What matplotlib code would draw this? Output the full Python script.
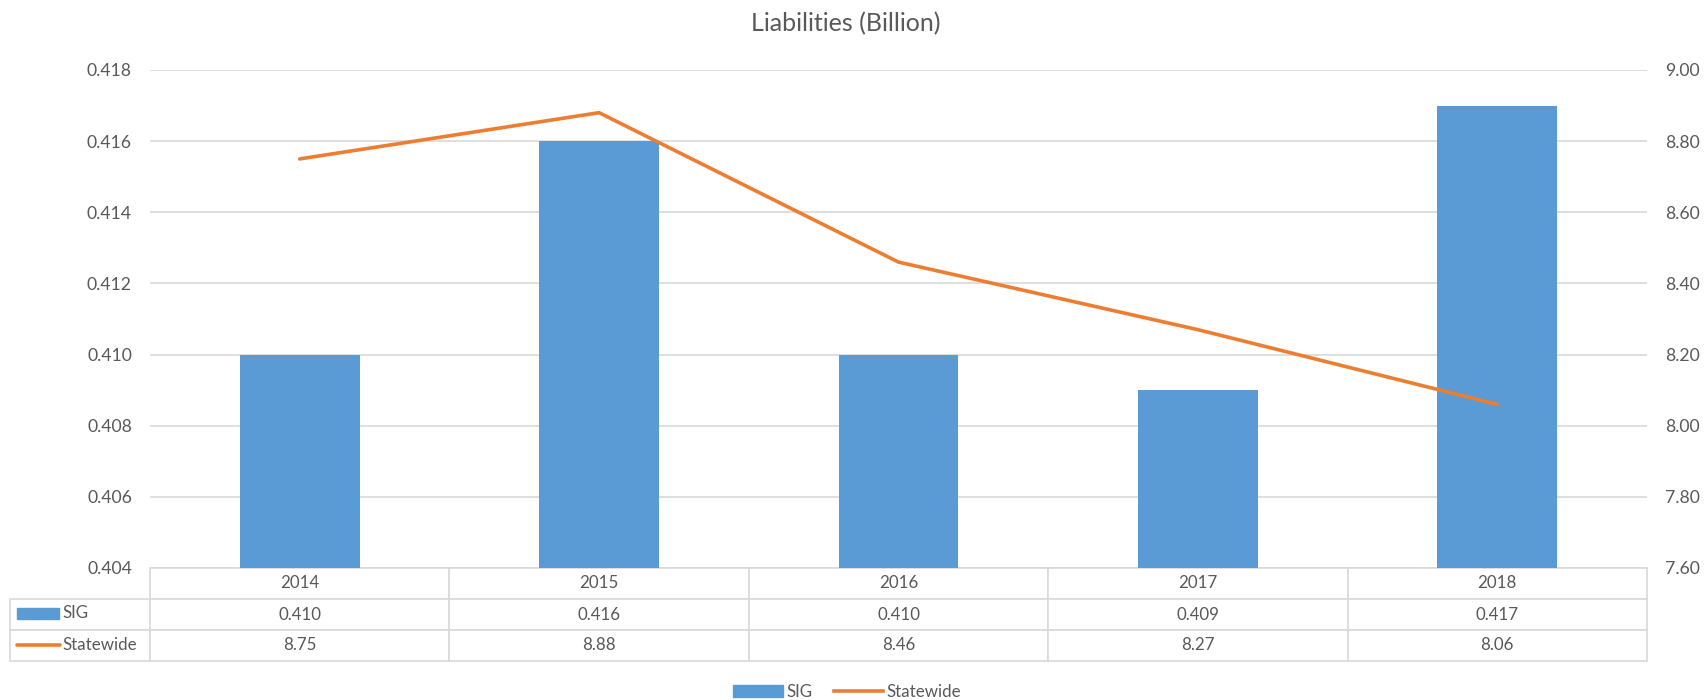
import matplotlib
matplotlib.use('Agg')
import matplotlib.pyplot as plt
from matplotlib.patches import Rectangle
from matplotlib.lines import Line2D
from matplotlib.ticker import FormatStrFormatter, MultipleLocator

# dados
years = ['2014', '2015', '2016', '2017', '2018']
sig = [0.410, 0.416, 0.410, 0.409, 0.417]
statewide = [8.75, 8.88, 8.46, 8.27, 8.06]

blue = '#5B9BD5'
orange = '#ED7D31'
txt = '#595959'
grid = '#D9D9D9'
fs = 12.2

plt.rcParams['font.family'] = ['Lato', 'DejaVu Sans']

fig = plt.figure(figsize=(17.05, 7.0), dpi=100)
W, H = 1705, 700
ax_l, ax_r, ax_t, ax_b = 150, 1647, 70, 568
ax = fig.add_axes([ax_l / W, 1 - ax_b / H, (ax_r - ax_l) / W, (ax_b - ax_t) / H])
ax2 = ax.twinx()

x = list(range(len(years)))
ax.bar(x, sig, width=0.4, color=blue, zorder=2)
ax2.plot(x, statewide, color=orange, linewidth=2.6, solid_capstyle='round', zorder=3)

ax.set_xlim(-0.5, len(years) - 0.5)
ax.set_ylim(0.404, 0.418)
ax2.set_ylim(7.6, 9.0)
ax.yaxis.set_major_locator(MultipleLocator(0.002))
ax2.yaxis.set_major_locator(MultipleLocator(0.2))
ax.yaxis.set_major_formatter(FormatStrFormatter('%.3f'))
ax2.yaxis.set_major_formatter(FormatStrFormatter('%.2f'))
ax.grid(axis='y', color=grid, linewidth=1.2, zorder=0)
ax.set_axisbelow(True)
ax.set_xticks([])
for a in (ax, ax2):
    for s in a.spines.values():
        s.set_visible(False)
    a.tick_params(axis='y', length=0, pad=13, labelsize=fs + 0.5, labelcolor=txt)

# tabela de dados
ax_w = ax_r - ax_l
ax_h = ax_b - ax_t
lab_w = 140
row_h = 93
cells = [[''] + years,
         [''] + ['%.3f' % v for v in sig],
         [''] + ['%.2f' % v for v in statewide]]
col_w = [lab_w / ax_w] + [1.0 / len(years)] * len(years)
tab = ax.table(cellText=cells, colWidths=col_w, cellLoc='center',
               bbox=[-lab_w / ax_w, -row_h / ax_h, 1 + lab_w / ax_w, row_h / ax_h])
tab.auto_set_font_size(False)
for (r, c), cell in tab.get_celld().items():
    cell.set_edgecolor(grid)
    cell.set_linewidth(1.2)
    cell.get_text().set_fontsize(fs)
    cell.get_text().set_color(txt)
    if r == 0 and c == 0:
        cell.set_visible(False)

# legendas dentro da tabela
def ax_x(px):
    return (px - ax_l) / ax_w

def ax_y(py):
    return (ax_b - py) / ax_h

ax.add_patch(Rectangle((ax_x(17), ax_y(619)), (59 - 17) / ax_w, 11 / ax_h,
                       transform=ax.transAxes, color=blue, clip_on=False))
ax.text(ax_x(62), ax_y(613), 'SIG', transform=ax.transAxes, va='center', ha='left',
        fontsize=fs, color=txt)
ax.add_line(Line2D([ax_x(17), ax_x(60)], [ax_y(645), ax_y(645)], transform=ax.transAxes,
                   color=orange, linewidth=2.6, solid_capstyle='round', clip_on=False))
ax.text(ax_x(62), ax_y(645), 'Statewide', transform=ax.transAxes, va='center', ha='left',
        fontsize=fs, color=txt)

fig.text(0.496, 1 - 24 / H, 'Liabilities (Billion)', ha='center', va='center',
         fontsize=18, color=txt)

handles = [Rectangle((0, 0), 1, 1, color=blue),
           Line2D([0], [0], color=orange, linewidth=2.6)]
fig.legend(handles, ['SIG', 'Statewide'], loc='center', bbox_to_anchor=(0.497, 1 - 692 / H),
           ncol=2, frameon=False, fontsize=fs, labelcolor=txt, handlelength=2.9,
           handletextpad=0.2, columnspacing=1.3, handleheight=0.7)

fig.savefig('out.png', dpi=100)
